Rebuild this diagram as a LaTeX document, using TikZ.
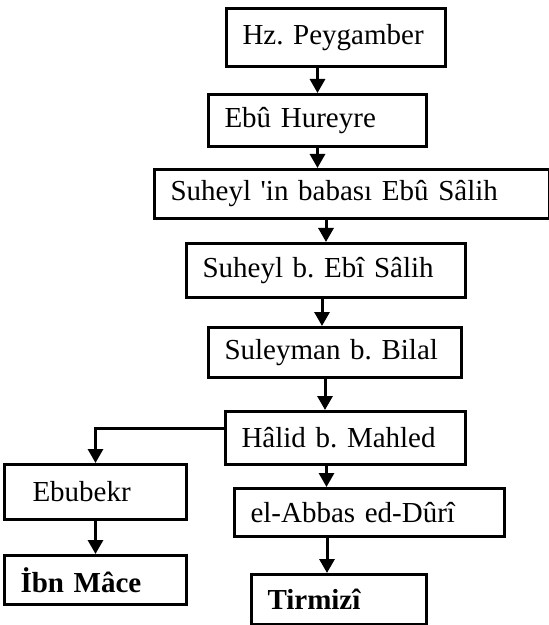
\documentclass[tikz,border=0pt]{standalone}
\usepackage{fontspec}
\setmainfont{Liberation Serif}
\usepackage{tikz}
\usetikzlibrary{arrows.meta, calc}
\frenchspacing

\tikzset{
	rawi/.style={draw, line width=1.5pt, anchor=north west, inner xsep=8pt,
		align=left, font=\fontsize{14.5}{17}\selectfont},
	isnad/.style={-{Triangle[width=7.5pt,length=7pt]}, line width=1.5pt}
}

\begin{document}
\begin{tikzpicture}[x=.5pt, y=-.5pt]
	\useasboundingbox (0,0) rectangle (549,625);

	% senet zinciri
	\node[rawi, text width=93.5pt, minimum height=29pt] (peygamber) at (225,7) {Hz. Peygamber};
	\node[rawi, text width=93pt, minimum height=26pt] (hureyre) at (207,93) {Ebû Hureyre};
	\node[rawi, text width=181.5pt, minimum height=24.5pt] (baba) at (153,168) {Suheyl \textquotesingle in babası Ebû Sâlih};
	\node[rawi, text width=123.5pt, minimum height=27pt] (suheyl) at (185,242) {Suheyl b. Ebî Sâlih};
	\node[rawi, text width=110.5pt, minimum height=25pt] (suleyman) at (207,326) {Suleyman b. Bilal};
	\node[rawi, text width=104pt, minimum height=26.5pt] (halid) at (224,410) {Hâlid b. Mahled};
	
	% iki kol
	\node[rawi, text width=75pt, minimum height=27.5pt] (ebubekr) at (3,463) {\hspace*{6pt}Ebubekr};
	\node[rawi, text width=75pt, minimum height=24.5pt] (ibnmace) at (3,554) {\bfseries İbn Mâce};
	\node[rawi, text width=119pt, minimum height=24pt] (abbas) at (233,487) {el-Abbas ed-Dûrî};
	\node[rawi, text width=71.5pt, minimum height=25pt] (tirmizi) at (250,573) {\bfseries Tirmizî};

	\draw[isnad] (peygamber.south -| hureyre.north) -- (hureyre.north);
	\draw[isnad] (hureyre.south) -- (hureyre.south |- baba.north);
	\draw[isnad] (suheyl.north |- baba.south) -- (suheyl.north);
	\draw[isnad] ([xshift=-2pt]suheyl.south) -- ([xshift=-2pt]suheyl.south |- suleyman.north);
	\draw[isnad] ([xshift=-5pt]suleyman.south) -- ([xshift=-5pt]suleyman.south |- halid.north);
	\draw[isnad] ([yshift=4.75pt]halid.west) -| (ebubekr.north);
	\draw[isnad] (ebubekr.south) -- (ibnmace.north);
	\draw[isnad] ([xshift=-9.5pt]halid.south) -- ([xshift=-9.5pt]halid.south |- abbas.north);
	\draw[isnad] ([xshift=-6pt]tirmizi.north |- abbas.south) -- ([xshift=-6pt]tirmizi.north);

\end{tikzpicture}
\end{document}
